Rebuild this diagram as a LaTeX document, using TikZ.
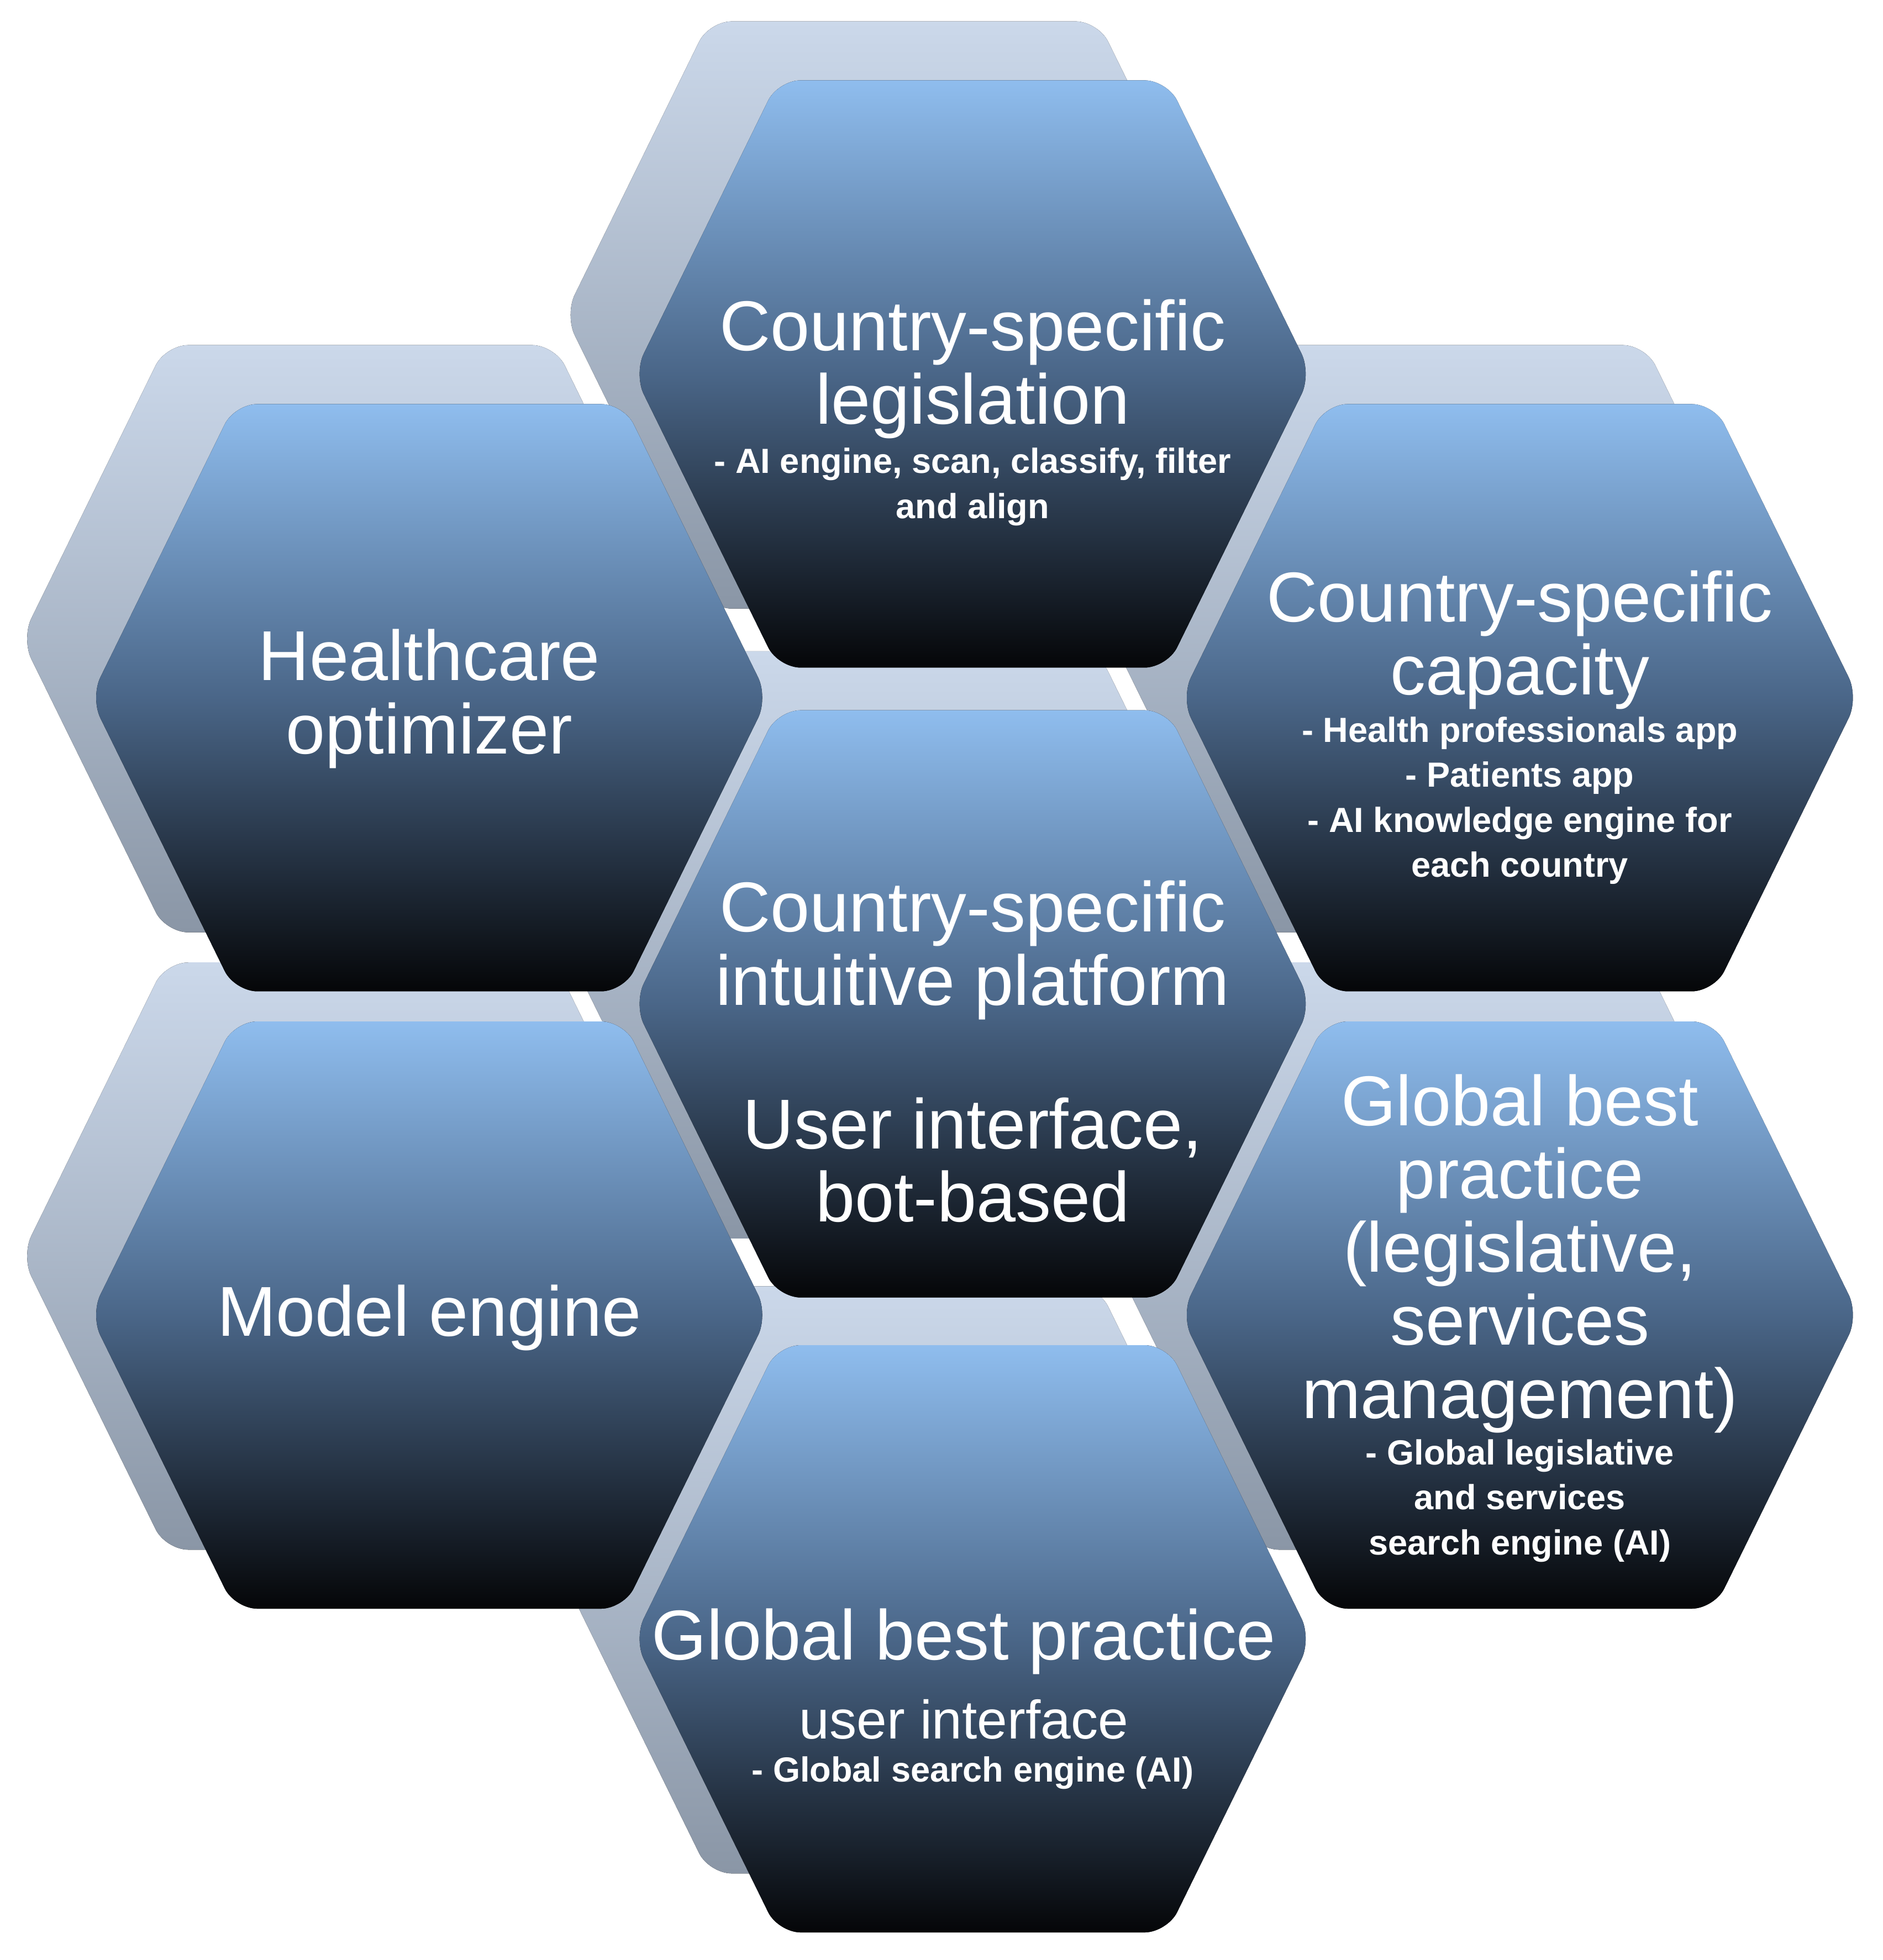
\documentclass[tikz,border=0pt]{standalone}
\usepackage{fontspec}
\setmainfont{Liberation Sans}
\begin{document}
\begin{tikzpicture}[x=0.01cm,y=-0.01cm,
  hexfront/.style={rounded corners=0.18cm, top color=hexTop, bottom color=hexBot, middle color=hexMid, draw=none},
  hexback/.style={rounded corners=0.18cm, top color=shTop, bottom color=shBot, draw=none},
  big/.style={text=white, align=center, font=\fontsize{16}{16.6}\selectfont},
  mid/.style={text=white, align=center, font=\fontsize{12.3}{13}\selectfont},
  sm/.style={text=white, align=center, font=\bfseries\fontsize{7.9}{10.2}\selectfont}]
\definecolor{hexTop}{HTML}{8FBDEE}
\definecolor{hexMid}{HTML}{4A6688}
\definecolor{hexBot}{HTML}{050608}
\definecolor{shTop}{HTML}{CBD8EA}
\definecolor{shBot}{HTML}{8A96A6}
\useasboundingbox (0,0) rectangle (1500,1562);
\newcommand{\hexpath}[1]{++(-155,-234) -- ++(310,0) -- ++(115,234) -- ++(-115,234) -- ++(-310,0) -- ++(-115,-234) -- cycle}
\foreach \x/\y in {775/298,342/556,1211/556,775/800,342/1048,1211/1048,775/1306}{
  \fill[hexback] (\x-55,\y-47) \hexpath{};
}
\foreach \x/\y in {775/298,342/556,1211/556,775/800,342/1048,1211/1048,775/1306}{
  \fill[hexfront] (\x,\y) \hexpath{};
}
\node[big] (t1) at (775,294) {Country-specific\\legislation};
\node[sm] (t1s) at (775,388) {- AI engine, scan, classify, filter\\and align};
\node[big] (l1) at (342,557) {Healthcare\\optimizer};
\node[big] (r1) at (1211,510) {Country-specific\\capacity};
\node[sm] (r1s) at (1211,638) {- Health professionals app\\- Patients app\\- AI knowledge engine for\\each country};
\node[big] (c) at (775,838) {Country-specific\\intuitive platform\\[16pt]User interface,\\bot-based};
\node[big] (l2) at (342,1050) {Model engine};
\node[big] (r2) at (1211,999) {Global best\\practice\\(legislative,\\services\\management)};
\node[sm] (r2s) at (1211,1196) {- Global legislative\\and services\\search engine (AI)};
\node[big] (b) at (768,1308) {Global best practice};
\node[mid] (bm) at (768,1370) {user interface};
\node[sm] (bs) at (775,1413) {- Global search engine (AI)};
\end{tikzpicture}
\end{document}
